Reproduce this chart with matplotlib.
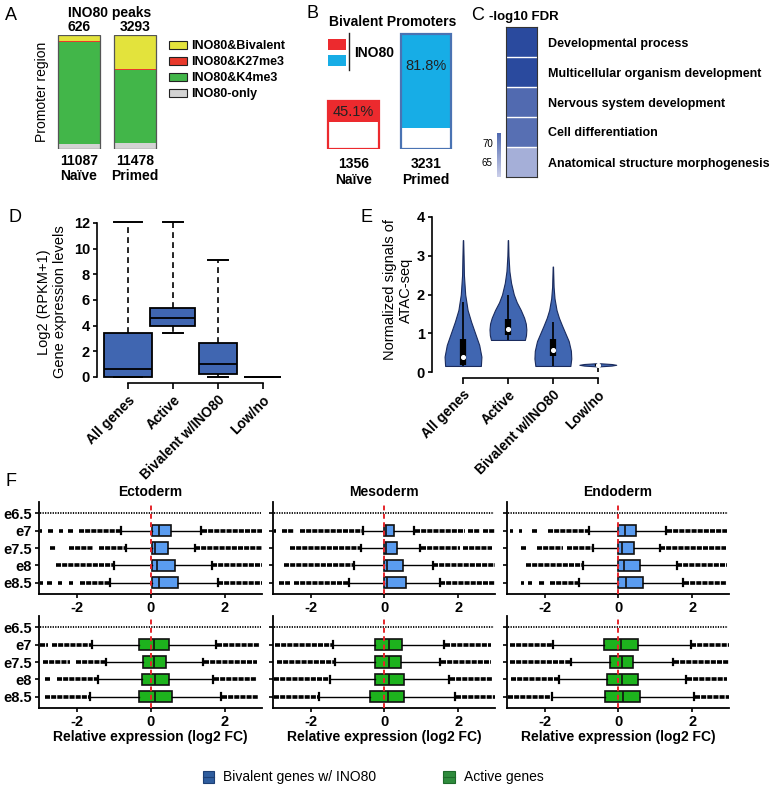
import numpy as np
import matplotlib
matplotlib.use('Agg')
import matplotlib.pyplot as plt
from matplotlib.patches import Rectangle, Patch
from matplotlib.lines import Line2D
from matplotlib.colors import LinearSegmentedColormap, Normalize
from matplotlib.cm import ScalarMappable

plt.rcParams['font.family'] = ['Liberation Sans', 'DejaVu Sans']
plt.rcParams['axes.unicode_minus'] = False

# ---------------- data ----------------
# A: INO80 peaks at promoters (percent of peaks, stacked bottom -> top)
a_samples = ['Naïve', 'Primed']
a_totals = [11087, 11478]
a_peaks = [626, 3293]
a_only = [4.4, 5.3]
a_k4me3 = [89.6, 64.2]
a_k27me3 = [0.3, 0.5]
a_bivalent = [5.7, 30.0]

# B: bivalent promoters bound by INO80
b_samples = ['Naïve', 'Primed']
b_totals = [1356, 3231]
b_ino80_pct = [45.1, 81.8]

# C: GO terms
go_terms = ['Developmental process', 'Multicellular organism development',
            'Nervous system development', 'Cell differentiation',
            'Anatomical structure morphogenesis']
go_logfdr = [77.0, 76.0, 72.3, 71.8, 64.5]

# D: expression boxplots
d_cats = ['All genes', 'Active', 'Bivalent w/INO80', 'Low/no']
d_whislo = [0.0, 3.4, 0.0, 0.0]
d_q1 = [0.0, 4.0, 0.2, 0.0]
d_med = [0.65, 4.6, 1.0, 0.0]
d_q3 = [3.45, 5.4, 2.65, 0.0]
d_whishi = [12.05, 12.05, 9.1, 0.0]

# E: ATAC-seq violins (profile)
e_cats = ['All genes', 'Active', 'Bivalent w/INO80', 'Low/no']
e_coords = [[0.16, 0.4, 0.7, 1.0, 1.3, 1.6, 2.0, 2.5, 3.0, 3.4],
            [0.83, 0.95, 1.1, 1.25, 1.4, 1.6, 1.8, 2.0, 2.3, 2.6, 3.0, 3.4],
            [0.16, 0.35, 0.55, 0.8, 1.0, 1.2, 1.4, 1.6, 1.9, 2.2, 2.72],
            [0.15, 0.17, 0.19, 0.21, 0.23]]
e_density = [[0.97, 1.0, 0.88, 0.66, 0.44, 0.25, 0.12, 0.05, 0.03, 0.01],
             [0.92, 0.98, 1.0, 0.97, 0.88, 0.7, 0.48, 0.32, 0.17, 0.08, 0.03, 0.01],
             [0.95, 1.0, 0.98, 0.86, 0.68, 0.5, 0.33, 0.2, 0.09, 0.04, 0.01],
             [0.1, 0.75, 1.0, 0.75, 0.1]]
e_whislo = [0.16, 0.83, 0.16, 0.0]
e_q1 = [0.18, 0.95, 0.42, 0.17]
e_med = [0.4, 1.1, 0.58, 0.18]
e_q3 = [0.85, 1.37, 0.85, 0.2]
e_whishi = [1.8, 2.0, 1.3, 0.2]

# F: relative expression across stages
stages = ['e6.5', 'e7', 'e7.5', 'e8', 'e8.5']
layers = ['Ectoderm', 'Mesoderm', 'Endoderm']
ref_span = [-3.0, 2.98]   # e6.5 reference row
# rows e7..e8.5: whislo, q1, med, q3, whishi
ecto_biv_box = [[-0.80, 0.02, 0.21, 0.53, 1.36],
                [-0.68, 0.02, 0.11, 0.45, 1.18],
                [-1.00, 0.02, 0.16, 0.65, 1.64],
                [-1.09, 0.02, 0.21, 0.73, 1.80]]
meso_biv_box = [[-0.57, -0.01, 0.05, 0.27, 0.81],
                [-0.63, 0.0, 0.05, 0.35, 0.96],
                [-0.82, 0.0, 0.06, 0.51, 1.31],
                [-0.97, 0.0, 0.06, 0.58, 1.50]]
endo_biv_box = [[-0.79, 0.0, 0.17, 0.49, 1.30],
                [-0.70, 0.0, 0.11, 0.42, 1.12],
                [-0.97, 0.0, 0.14, 0.60, 1.58],
                [-1.08, 0.0, 0.20, 0.67, 1.75]]
ecto_act_box = [[-1.58, -0.33, 0.09, 0.50, 1.77],
                [-1.22, -0.22, 0.09, 0.41, 1.42],
                [-1.43, -0.24, 0.12, 0.50, 1.69],
                [-1.64, -0.31, 0.12, 0.57, 1.89]]
meso_act_box = [[-1.39, -0.25, 0.12, 0.49, 1.63],
                [-1.33, -0.25, 0.13, 0.45, 1.52],
                [-1.48, -0.25, 0.13, 0.54, 1.75],
                [-1.77, -0.38, 0.09, 0.54, 1.91]]
endo_act_box = [[-1.77, -0.40, 0.07, 0.54, 1.96],
                [-1.28, -0.24, 0.09, 0.41, 1.48],
                [-1.60, -0.31, 0.10, 0.54, 1.83],
                [-1.80, -0.36, 0.12, 0.59, 2.05]]
# outlier stretches (dense dots) per row
ecto_biv_out = [[(-3.0, -2.95), (-2.78, -2.64), (-2.47, -2.36), (-2.25, -2.09), (-1.93, -0.84), (1.38, 3.0)],
                [(-2.73, -2.55), (-2.2, -1.55), (-1.41, -0.7), (1.2, 2.99)],
                [(-2.55, -1.02), (1.66, 3.0)],
                [(-3.0, -2.9), (-2.8, -2.68), (-2.5, -2.41), (-2.2, -2.09), (-1.9, -1.11), (1.82, 3.0)]]
meso_biv_out = [[(-3.0, -2.95), (-2.77, -2.46), (-2.28, -0.59), (0.83, 2.18), (2.27, 2.59), (2.68, 2.99)],
                [(-2.57, -0.65), (0.98, 2.05), (2.14, 2.92)],
                [(-2.73, -0.84), (1.33, 2.99)],
                [(-2.86, -2.55), (-2.46, -0.99), (1.52, 2.99)]]
endo_biv_out = [[(-2.95, -2.85), (-2.7, -2.6), (-2.35, -2.2), (-1.9, -0.81), (1.32, 2.95)],
                [(-2.64, -2.5), (-2.2, -1.51), (-1.38, -0.72), (1.14, 2.93)],
                [(-2.5, -0.99), (1.6, 2.95)],
                [(-2.64, -2.55), (-2.45, -2.35), (-2.14, -2.0), (-1.85, -1.1), (1.77, 2.95)]]
ecto_act_out = [[(-3.0, -2.77), (-2.68, -1.6), (1.79, 2.95)],
                [(-2.9, -2.18), (-2.02, -1.24), (1.44, 2.86)],
                [(-2.87, -2.72), (-2.54, -1.45), (1.71, 2.86)],
                [(-2.87, -1.66), (1.91, 2.9)]]
meso_act_out = [[(-2.96, -1.41), (1.65, 2.9)],
                [(-2.9, -1.35), (1.54, 2.9)],
                [(-3.0, -1.5), (1.77, 2.93)],
                [(-3.0, -1.79), (1.93, 3.0)]]
endo_act_out = [[(-2.95, -1.79), (1.98, 3.0)],
                [(-2.95, -1.3), (1.5, 3.0)],
                [(-2.92, -1.62), (1.85, 2.95)],
                [(-3.0, -1.82), (2.07, 3.0)]]

# ---------------- layout helpers (pixels, top-left origin) ----------------
W, H = 780, 787
fig = plt.figure(figsize=(W / 100, H / 100), dpi=100)


def box(x0, y0, x1, y1):
    return [x0 / W, 1 - y1 / H, (x1 - x0) / W, (y1 - y0) / H]


def ftext(x, y, s, **kw):
    return fig.text(x / W, 1 - y / H, s, **kw)


def frect(x0, y0, x1, y1, fc, ec='none', lw=0.8):
    fig.add_artist(Rectangle((x0 / W, 1 - y1 / H), (x1 - x0) / W, (y1 - y0) / H,
                             transform=fig.transFigure, fc=fc, ec=ec, lw=lw))


def fline(xs, ys, **kw):
    fig.add_artist(Line2D([x / W for x in xs], [1 - y / H for y in ys],
                          transform=fig.transFigure, **kw))


BOLD = dict(fontweight='bold')
for lab, (x, y) in zip('ABCDEF', [(11, 15), (313, 14), (478, 16), (15, 218), (367, 218), (11, 482)]):
    ftext(x, y, lab, fontsize=13, ha='center', va='center')

# ---------------- A ----------------
ax = fig.add_axes(box(45, 35, 169, 149))
xa = np.arange(len(a_samples))
bottom = np.zeros(2)
a_cols = ['#d3d3d3', '#42b649', '#e8392b', '#e3e33c']
for vals, col in zip([a_only, a_k4me3, a_k27me3, a_bivalent], a_cols):
    ax.bar(xa, vals, 0.74, bottom=bottom, color=col, edgecolor='none')
    bottom += np.array(vals)
ax.bar(xa, bottom, 0.74, fill=False, edgecolor='#555555', lw=0.9)
for x, p, t, s in zip(xa, a_peaks, a_totals, a_samples):
    ax.text(x, 101, str(p), ha='center', va='bottom', fontsize=10, **BOLD)
    ax.text(x, -4, f'{t}\n{s}', ha='center', va='top', fontsize=10, linespacing=1.15, **BOLD)
ax.set_xlim(-0.6, 1.6)
ax.set_ylim(0, 100)
ax.axis('off')
ftext(110, 13, 'INO80 peaks', ha='center', va='center', fontsize=10, **BOLD)
ftext(42, 92, 'Promoter region', rotation=90, ha='center', va='center', fontsize=10)
handles = [Patch(fc=c, ec='#222222', lw=0.8) for c in a_cols[::-1]]
labels = ['INO80&Bivalent', 'INO80&K27me3', 'INO80&K4me3', 'INO80-only']
fig.legend(handles, labels, loc='upper left', bbox_to_anchor=(169 / W, 1 - 40 / H),
           frameon=False, prop=dict(size=9, weight='bold'), handlelength=1.4,
           handleheight=0.6, handletextpad=0.4, labelspacing=0.32, borderaxespad=0, borderpad=0)

# ---------------- B ----------------
ax = fig.add_axes(box(310, 31.5, 469.5, 149))
xb = np.arange(len(b_samples))
b_fill = np.array(b_totals) * np.array(b_ino80_pct) / 100
b_cols = ['#ec2a2e', '#17ade6']
b_edges = ['#ec2a2e', '#4a73b3']
ax.bar(xb, b_fill, 0.7, bottom=np.array(b_totals) - b_fill, color=b_cols)
ax.bar(xb, b_totals, 0.7, fill=False, edgecolor=b_edges, lw=1.6)
for x, t, p, s, f in zip(xb, b_totals, b_ino80_pct, b_samples, [0.775, 0.72]):
    ax.text(x, t * f, f'{p}%', ha='center', va='center', fontsize=10.5, color='#222222')
    ax.text(x, -230, f'{t}\n{s}', ha='center', va='top', fontsize=10, linespacing=1.15, **BOLD)
ax.set_xlim(-0.6, 1.6)
ax.set_ylim(0, 3300)
ax.axis('off')
ftext(393, 22, 'Bivalent Promoters', ha='center', va='center', fontsize=10, **BOLD)
frect(328, 39, 346, 50, '#ec2a2e')
frect(328, 55, 346, 66, '#17ade6')
fline([348.5, 348.5], [33, 70], color='#222222', lw=1.0)
ftext(354, 53, 'INO80', ha='left', va='center', fontsize=10, **BOLD)

# ---------------- C ----------------
cmap = LinearSegmentedColormap.from_list('go', ['#d6d8ef', '#2a4a9e'])
norm = Normalize(60, 76)
ax = fig.add_axes(box(506, 27, 537, 177))
ax.imshow(np.array(go_logfdr)[:, None], cmap=cmap, norm=norm, aspect='auto')
for i in range(len(go_terms) - 1):
    ax.axhline(i + 0.5, color='white', lw=1.0)
ax.set_xticks([])
ax.yaxis.tick_right()
ax.set_yticks(range(len(go_terms)))
ax.set_yticklabels(go_terms, fontsize=9, **BOLD)
ax.tick_params(axis='y', length=0, pad=8)
for sp in ax.spines.values():
    sp.set_color('#333333')
    sp.set_linewidth(0.8)
ftext(524, 17, '-log10 FDR', ha='center', va='center', fontsize=9.5, **BOLD)
cax = fig.add_axes(box(497, 133, 501, 177))
cb = fig.colorbar(ScalarMappable(norm=norm, cmap=cmap), cax=cax)
cb.outline.set_visible(False)
cax.set_ylim(61, 72.6)
cax.yaxis.set_ticks_position('left')
cax.set_yticks([65, 70])
cax.tick_params(length=0, pad=3, labelsize=7)

# ---------------- D ----------------
blue = '#4066b1'
ax = fig.add_axes(box(97, 219, 283, 383.4))
stats = [dict(whislo=a, q1=b, med=c, q3=d, whishi=e, label=l)
         for a, b, c, d, e, l in zip(d_whislo, d_q1, d_med, d_q3, d_whishi, d_cats)]
ax.bxp(stats, positions=range(4), widths=[1.05, 1.0, 0.85, 0.82], capwidths=[0.63, 0.45, 0.45, 0.45],
       patch_artist=True, showfliers=False,
       boxprops=dict(facecolor=blue, edgecolor='black', lw=1.3),
       whiskerprops=dict(ls=(0, (3.5, 2.5)), lw=1.2, color='black'),
       capprops=dict(lw=1.4, color='black'), medianprops=dict(color='black', lw=1.3))
ax.set_xlim(-0.69, 3.45)
ax.set_ylim(-0.5, 12.3)
ax.set_yticks(range(0, 13, 2))
ax.spines['left'].set_bounds(0, 12)
ax.spines['bottom'].set_bounds(0, 3)
for s in ['top', 'right']:
    ax.spines[s].set_visible(False)
for s in ['left', 'bottom']:
    ax.spines[s].set_linewidth(1.2)
ax.set_xticks(range(4))
ax.set_xticklabels(d_cats, rotation=45, ha='right', rotation_mode='anchor', fontsize=10, **BOLD)
ax.tick_params(axis='y', labelsize=10.5, length=3, width=1.2, pad=2)
ax.tick_params(axis='x', length=4, width=1.2, pad=3)
for t in ax.get_yticklabels():
    t.set_fontweight('bold')
ftext(52, 302, 'Log2 (RPKM+1)\nGene expression levels', rotation=90, ha='center',
      va='center', fontsize=10.5, linespacing=1.1)

# ---------------- E ----------------
ax = fig.add_axes(box(432, 213, 618, 378))
vp = [dict(coords=c, vals=v, mean=m, median=m, min=c[0], max=c[-1])
      for c, v, m in zip(e_coords, e_density, e_med)]
parts = ax.violin(vp, positions=range(4), widths=0.82, showmeans=False,
                  showmedians=False, showextrema=False)
for b in parts['bodies']:
    b.set_facecolor(blue)
    b.set_edgecolor('#1b2c5e')
    b.set_linewidth(0.8)
    b.set_alpha(1)
pos = np.arange(4)
ax.vlines(pos, e_whislo, e_whishi, color='black', lw=1.2)
ax.vlines(pos, e_q1, e_q3, color='black', lw=4.5)
ax.scatter(pos, e_med, s=7, color='white', zorder=5)
ax.set_xlim(-0.69, 3.45)
ax.set_ylim(-0.15, 4.1)
ax.set_yticks(range(5))
ax.spines['left'].set_bounds(0, 4)
ax.spines['bottom'].set_bounds(0, 3)
for s in ['top', 'right']:
    ax.spines[s].set_visible(False)
for s in ['left', 'bottom']:
    ax.spines[s].set_linewidth(1.2)
ax.set_xticks(range(4))
ax.set_xticklabels(e_cats, rotation=45, ha='right', rotation_mode='anchor', fontsize=10, **BOLD)
ax.tick_params(axis='y', labelsize=10.5, length=3, width=1.2, pad=2)
ax.tick_params(axis='x', length=4, width=1.2, pad=3)
for t in ax.get_yticklabels():
    t.set_fontweight('bold')
ftext(398, 290, 'Normalized signals of\nATAC-seq', rotation=90, ha='center',
      va='center', fontsize=10.5, linespacing=1.1)

# ---------------- F ----------------
cols = [(39, 262), (273, 495), (507, 729)]
rows = [(502, 594), (616, 708)]
f_boxes = [[ecto_biv_box, meso_biv_box, endo_biv_box], [ecto_act_box, meso_act_box, endo_act_box]]
f_outs = [[ecto_biv_out, meso_biv_out, endo_biv_out], [ecto_act_out, meso_act_out, endo_act_out]]
f_colors = ['#5a9cf0', '#1db31d']
for r, (y0, y1) in enumerate(rows):
    for c, (x0, x1) in enumerate(cols):
        ax = fig.add_axes(box(x0, y0, x1, y1))
        st = [dict(whislo=a, q1=b, med=m, q3=d, whishi=e) for a, b, m, d, e in f_boxes[r][c]]
        ax.bxp(st, positions=range(1, 5), widths=0.66, capwidths=0.38, orientation='horizontal',
               patch_artist=True, showfliers=False,
               boxprops=dict(facecolor=f_colors[r], edgecolor='#111111', lw=1.2),
               whiskerprops=dict(lw=1.0, color='black'), capprops=dict(lw=1.6, color='black'),
               medianprops=dict(color='#111111', lw=1.2))
        for i, segs in enumerate(f_outs[r][c]):
            for lo, hi in segs:
                ax.hlines(i + 1, lo, hi, color='black', lw=2.6, linestyles=[(0, (1.4, 0.3))])
        ax.hlines(0, ref_span[0], ref_span[1], color='black', lw=1.3, linestyles=[(0, (0.7, 0.7))])
        ax.axvline(0, color='#e5262b', lw=1.4, ls=(0, (2.5, 1.8)), zorder=6)
        ax.set_xlim(-3.02, 3.0)
        ax.set_ylim(4.65, -0.66)
        ax.set_yticks(range(5))
        ax.set_xticks([-2, 0, 2])
        for s in ['top', 'right']:
            ax.spines[s].set_visible(False)
        for s in ['left', 'bottom']:
            ax.spines[s].set_linewidth(1.3)
        ax.tick_params(length=3, width=1.2, labelsize=10.5, pad=2)
        if c == 0:
            ax.set_yticklabels(stages, fontsize=10.5, **BOLD)
        else:
            ax.set_yticklabels([])
        for t in ax.get_xticklabels():
            t.set_fontweight('bold')
        if r == 0:
            ax.set_title(layers[c], fontsize=10, pad=4, **BOLD)
        else:
            ax.set_xlabel('Relative expression (log2 FC)', fontsize=10, labelpad=1, **BOLD)

# bottom legend
for (x0, x1), fc, ec, lab in [((203, 214), '#2f5d9e', '#1d3f75', 'Bivalent genes w/ INO80'),
                              ((443, 455), '#2e8b3c', '#1e6a2a', 'Active genes')]:
    frect(x0, 771, x1, 783, fc, ec, 0.8)
    fline([x0, x1], [777, 777], color=ec, lw=0.8)
    ftext(x1 + 9, 777, lab, ha='left', va='center', fontsize=10)

fig.savefig('out.png', dpi=100)
